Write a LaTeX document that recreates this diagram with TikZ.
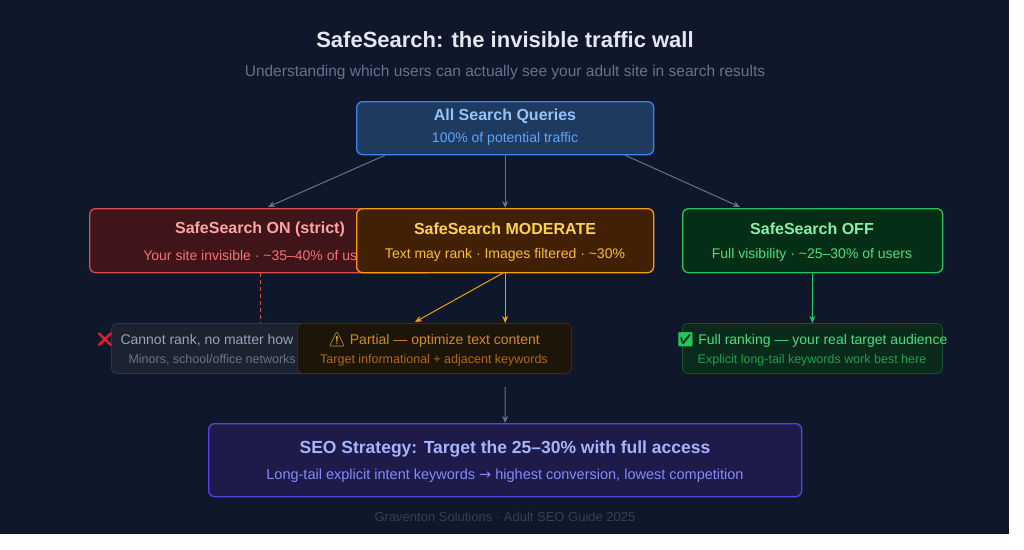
\documentclass[tikz,border=0pt]{standalone}
\usepackage{fontspec}
\setmainfont{Liberation Sans}
\newfontfamily\emo{Noto Emoji}
\newfontfamily\symb{DejaVu Sans}
\usetikzlibrary{arrows.meta}
\definecolor{bg}{HTML}{0F172A}
\definecolor{lnk}{HTML}{64748B}
\definecolor{titlec}{HTML}{E2E8F0}
\definecolor{allfill}{HTML}{1E3A5F}\definecolor{alldraw}{HTML}{3B82F6}
\definecolor{allhead}{HTML}{93C5FD}\definecolor{allsub}{HTML}{60A5FA}
\definecolor{onfill}{HTML}{3F1519}\definecolor{ondraw}{HTML}{DC4A4A}
\definecolor{onhead}{HTML}{FCA5A5}\definecolor{onsub}{HTML}{F87171}
\definecolor{modfill}{HTML}{422006}\definecolor{moddraw}{HTML}{F59E0B}
\definecolor{modhead}{HTML}{FCD34D}\definecolor{modsub}{HTML}{FBBF24}
\definecolor{offfill}{HTML}{052E16}\definecolor{offdraw}{HTML}{22C55E}
\definecolor{offhead}{HTML}{86EFAC}\definecolor{offsub}{HTML}{4ADE80}
\definecolor{seofill}{HTML}{1E1B4B}\definecolor{seodraw}{HTML}{4F46E5}
\definecolor{seohead}{HTML}{A5B4FC}\definecolor{seosub}{HTML}{818CF8}
\definecolor{blkfill}{HTML}{1C2230}\definecolor{blkdraw}{HTML}{2D3748}
\definecolor{blkhead}{HTML}{94A3B8}\definecolor{footc}{HTML}{334155}
\definecolor{prtfill}{HTML}{1C1508}\definecolor{prtdraw}{HTML}{3A2E1A}
\definecolor{prthead}{HTML}{D48A1C}\definecolor{prtsub}{HTML}{B4690E}
\definecolor{fulfill}{HTML}{0A2A1C}\definecolor{fuldraw}{HTML}{14532D}
\definecolor{fulsub}{HTML}{16A34A}
\definecolor{crossc}{HTML}{E11D2E}\definecolor{warnc}{HTML}{FACC15}
\tikzset{
  box/.style={draw, rounded corners=6pt, line width=1.3pt, inner sep=0pt, align=center, anchor=north west},
  res/.style={draw, rounded corners=5pt, line width=0.8pt, inner sep=0pt, align=center, anchor=north west},
  head/.style={font=\bfseries\fontsize{16}{19}\selectfont},
  sub/.style={font=\fontsize{14}{17}\selectfont},
  small/.style={font=\fontsize{12.5}{15}\selectfont},
  link/.style={-{Stealth[length=7pt,width=6pt]}, line width=1pt},
}
\begin{document}
\begin{tikzpicture}[x=1pt,y=-1pt]
\useasboundingbox (0,0) rectangle (1024,549);
\fill[white] (0,0) rectangle (1024,549);
\fill[bg] (0,0) rectangle (1009,534);
\node[font=\bfseries\fontsize{22}{26}\selectfont, text=titlec] (title) at (505,40) {SafeSearch: the invisible traffic wall};
\node[font=\fontsize{15.5}{18}\selectfont, text=lnk] (subtitle) at (505,72) {Understanding which users can actually see your adult site in search results};
% top
\node[box, draw=alldraw, fill=allfill, minimum width=297pt, minimum height=53pt] (all) at (356,101) {};
\node[head, text=allhead] at (505,116) {All Search Queries};
\node[sub, text=allsub] at (505,139) {100\% of potential traffic};
% three branches
\node[box, draw=ondraw, fill=onfill, minimum width=342pt, minimum height=64pt] (on) at (89,208) {};
\node[head, text=onhead] at (260,229) {SafeSearch ON (strict)};
\node[sub, text=onsub] at (260,255) {Your site invisible · \textasciitilde35--40\% of users};
\node[box, draw=moddraw, fill=modfill, minimum width=297pt, minimum height=64pt] (mod) at (356,208) {};
\node[head, text=modhead] at (505,229) {SafeSearch MODERATE};
\node[sub, text=modsub] at (505,255) {Text may rank · Images filtered · \textasciitilde30\%};
\node[box, draw=offdraw, fill=offfill, minimum width=260pt, minimum height=64pt] (off) at (682,208) {};
\node[head, text=offhead] at (812,229) {SafeSearch OFF};
\node[sub, text=offsub] at (812,255) {Full visibility · \textasciitilde25--30\% of users};
% results
\node[res, draw=blkdraw, fill=blkfill, minimum width=320pt, minimum height=50pt] (blocked) at (111,323) {};
\node[sub, text=blkhead, anchor=west] at (117,340) {Cannot rank, no matter how};
\node[small, text=lnk, anchor=west] at (125,360) {Minors, school/office networks};
\node[font=\emo\fontsize{14}{16}\selectfont, text=crossc] at (105,340) {❌};
\node[res, draw=prtdraw, fill=prtfill, minimum width=274pt, minimum height=50pt] (part) at (297,323) {};
\node[sub, text=prthead] at (434,340) {{\emo\textcolor{warnc}{⚠}} Partial — optimize text content};
\node[small, text=prtsub] at (434,360) {Target informational + adjacent keywords};
\node[res, draw=fuldraw, fill=fulfill, minimum width=260pt, minimum height=50pt] (full) at (682,323) {};
\node[sub, text=offsub] at (812,340) {{\emo\textcolor{offdraw}{✅}} Full ranking — your real target audience};
\node[small, text=fulsub] at (812,360) {Explicit long-tail keywords work best here};
% strategy
\node[box, draw=seodraw, fill=seofill, minimum width=593pt, minimum height=73pt] (seo) at (208,423) {};
\node[font=\bfseries\fontsize{17.5}{21}\selectfont, text=seohead] at (505,449) {SEO Strategy: Target the 25--30\% with full access};
\node[font=\fontsize{14.5}{17}\selectfont, text=seosub] at (505,476) {Long-tail explicit intent keywords {\symb→} highest conversion, lowest competition};
\node[font=\fontsize{13}{16}\selectfont, text=footc] (foot) at (505,517) {Graventon Solutions · Adult SEO Guide 2025};
% connectors
\coordinate (gap) at (505,387);
\draw[link, lnk] (all.south west) ++(29,0) -- (268,207);
\draw[link, lnk] (all.south) -- (mod.north);
\draw[link, lnk] (all.south east) ++(-29,0) -- (740,207);
\draw[ondraw, line width=1pt, dash pattern=on 4pt off 3pt] (260,273) -- (260,323);
\draw[link, moddraw] (503,273) -- (415,322);
\draw[link, moddraw] (mod.south) -- (part.north -| mod.south);
\draw[link, offdraw] (off.south) -- (full.north);
\draw[link, lnk] (gap) -- (seo.north);
\end{tikzpicture}
\end{document}
